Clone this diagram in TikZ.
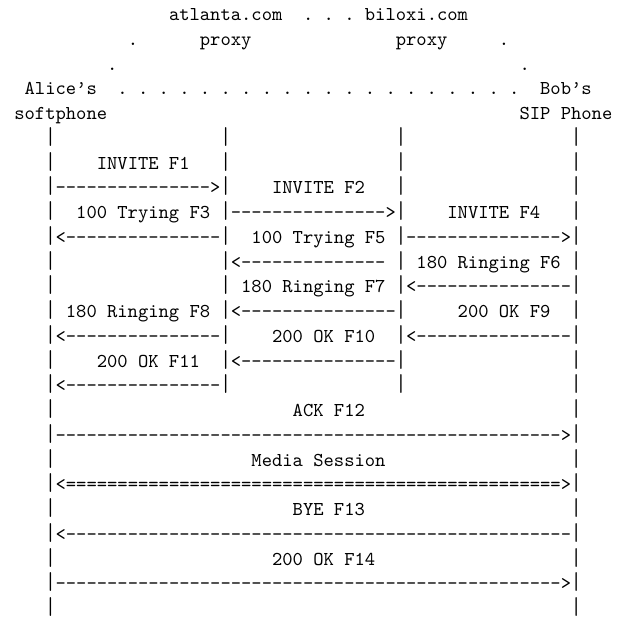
\documentclass[tikz,border=0pt]{standalone}
\usepackage{fontspec}
\setmonofont{Latin Modern Mono}
\usepackage{graphicx}
\newcommand{\lbar}{\scalebox{1}[1.25]{|}}

\begin{document}
\begin{tikzpicture}[x=5.25pt,y=-12.6pt,
  msg/.style={anchor=base west,inner sep=0pt,font=\ttfamily\frenchspacing},
  life/.style={msg}]
  \useasboundingbox (-1.353,0.163) rectangle (59.07,25.10);
  % the trapezoid on top
  \node[msg] (atl)   at (15,1)  {atlanta.com};
  \node[msg] (d1)    at (28,1)  {. . .};
  \node[msg] (bil)   at (34,1)  {biloxi.com};
  \node[msg] (d2l)   at (11,2)  {.};
  \node[msg] (prx1)  at (18,2)  {proxy};
  \node[msg] (prx2)  at (37,2)  {proxy};
  \node[msg] (d2r)   at (47,2)  {.};
  \node[msg] (d3l)   at (9,3)   {.};
  \node[msg] (d3r)   at (49,3)  {.};
  \node[msg] (alice) at (1,4)   {Alice’s};
  \node[msg] (d4)    at (10,4)  {. . . . . . . . . . . . . . . . . . . .};
  \node[msg] (bob)   at (51,4)  {Bob’s};
  \node[msg] (soft)  at (0,5)   {softphone};
  \node[msg] (sip)   at (49,5)  {SIP Phone};
  % lifelines
  \foreach \r in {6,...,16}
    \foreach \c in {3,20,37,54}
      \node[life] (b\r-\c) at (\c,\r) {\lbar};
  \foreach \r in {17,...,25}
    \foreach \c in {3,54}
      \node[life] (b\r-\c) at (\c,\r) {\lbar};
  % call setup
  \node[msg] (f1)  at (8,7)   {INVITE F1};
  \node[msg] (a1)  at (4,8)   {--------------->};
  \node[msg] (f2)  at (25,8)  {INVITE F2};
  \node[msg] (f3)  at (6,9)   {100 Trying F3};
  \node[msg] (a2)  at (21,9)  {--------------->};
  \node[msg] (f4)  at (42,9)  {INVITE F4};
  \node[msg] (a3)  at (4,10)  {<---------------};
  \node[msg] (f5)  at (23,10) {100 Trying F5};
  \node[msg] (a4)  at (38,10) {--------------->};
  \node[msg] (a5)  at (21,11) {<--------------};
  \node[msg] (f6)  at (39,11) {180 Ringing F6};
  \node[msg] (f7)  at (22,12) {180 Ringing F7};
  \node[msg] (a6)  at (38,12) {<---------------};
  \node[msg] (f8)  at (5,13)  {180 Ringing F8};
  \node[msg] (a7)  at (21,13) {<---------------};
  \node[msg] (f9)  at (43,13) {200 OK F9};
  \node[msg] (a8)  at (4,14)  {<---------------};
  \node[msg] (f10) at (25,14) {200 OK F10};
  \node[msg] (a9)  at (38,14) {<---------------};
  \node[msg] (f11) at (8,15)  {200 OK F11};
  \node[msg] (a10) at (21,15) {<---------------};
  \node[msg] (a11) at (4,16)  {<---------------};
  % end to end
  \node[msg] (f12) at (27,17) {ACK F12};
  \node[msg] (a12) at (4,18)  {------------------------------------------------->};
  \node[msg] (med) at (23,19) {Media Session};
  \node[msg] (a13) at (4,20)  {<================================================>};
  \node[msg] (f13) at (27,21) {BYE F13};
  \node[msg] (a14) at (4,22)  {<-------------------------------------------------};
  \node[msg] (f14) at (25,23) {200 OK F14};
  \node[msg] (a15) at (4,24)  {------------------------------------------------->};
\end{tikzpicture}
\end{document}
